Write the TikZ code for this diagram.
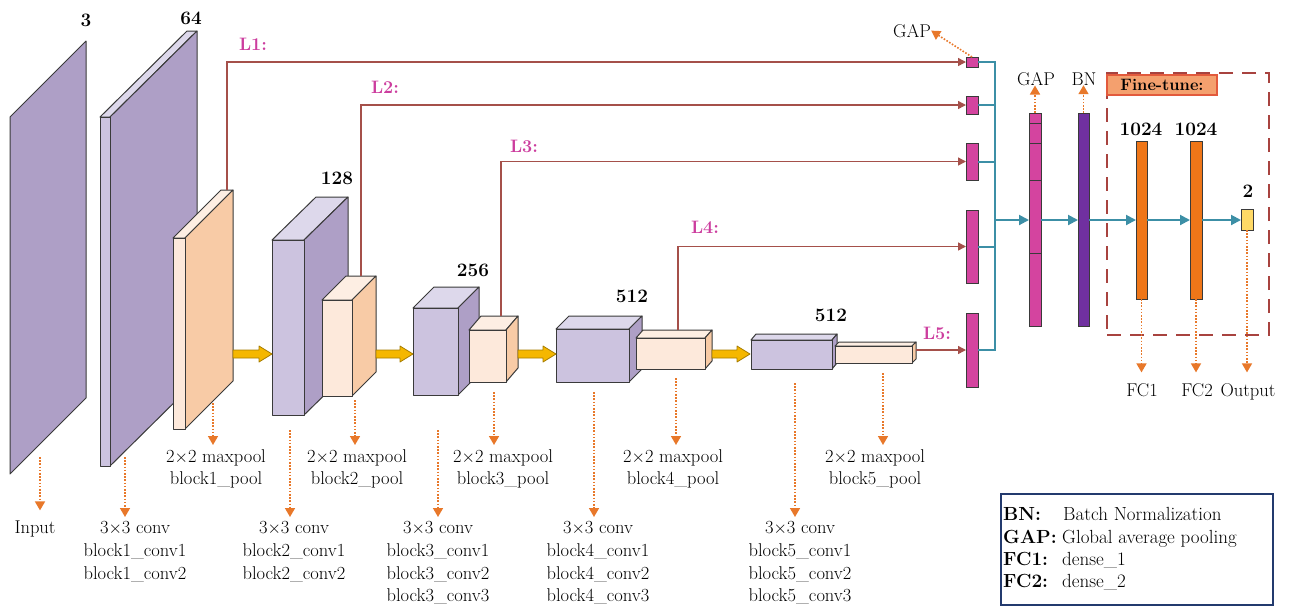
\documentclass[tikz,border=0pt]{standalone}
\usetikzlibrary{arrows.meta}
\definecolor{outl}{HTML}{3A3A3A}
\definecolor{purF}{HTML}{CCC3DF}
\definecolor{purS}{HTML}{AE9FC6}
\definecolor{purT}{HTML}{DDD8EB}
\definecolor{orF}{HTML}{FDE9DB}
\definecolor{orS}{HTML}{F8CBA6}
\definecolor{orT}{HTML}{FDEEE3}
\definecolor{lcol}{HTML}{A5504A}
\definecolor{magc}{HTML}{CC3D9E}
\definecolor{gapc}{HTML}{D4449F}
\definecolor{gapo}{HTML}{5A1A40}
\definecolor{bnc}{HTML}{7030A0}
\definecolor{fcc}{HTML}{EF7618}
\definecolor{outc}{HTML}{FFD966}
\definecolor{tealc}{HTML}{3C8FA6}
\definecolor{dor}{HTML}{E8782A}
\definecolor{dashc}{HTML}{A8433F}
\definecolor{ftfill}{HTML}{F4A06E}
\definecolor{ftdraw}{HTML}{E25A3C}
\definecolor{legc}{HTML}{233A6E}
\definecolor{yfill}{HTML}{F5B700}
\definecolor{ydraw}{HTML}{A67C00}
\definecolor{textc}{HTML}{000000}
\newcommand{\mycube}[9]{%
  \filldraw[box, fill=#9] (#1,#2) -- ++(#5,-#6) -- ++(#3,0) -- ++(-#5,#6) -- cycle;
  \filldraw[box, fill=#8] (#1+#3,#2) -- ++(#5,-#6) -- ++(0,#4) -- ++(-#5,#6) -- cycle;
  \filldraw[box, fill=#7] (#1,#2) rectangle ++(#3,#4);
}
\newcommand{\yarrow}[3]{%
  \filldraw[yarr] (#1,#3-4) -- (#2-13,#3-4) -- (#2-13,#3-8) -- (#2,#3) -- (#2-13,#3+8) -- (#2-13,#3+4) -- (#1,#3+4) -- cycle;
}
\begin{document}
\begin{tikzpicture}[x=1pt,y=-1pt,
  box/.style={draw=outl, line width=1pt, line join=round},
  yarr/.style={fill=yfill, draw=ydraw, line width=0.8pt, line join=round},
  lline/.style={draw=lcol, line width=1.4pt, -{Triangle[length=8pt,width=8pt]}},
  dotarr/.style={draw=dor, line width=1.6pt, dash pattern=on 1.6pt off 1.6pt, -{Triangle[length=9pt,width=10pt]}},
  tline/.style={draw=tealc, line width=2pt},
  tarr/.style={draw=tealc, line width=2pt, -{Triangle[length=10pt,width=10pt]}},
  bar/.style={rectangle, draw=outl, line width=1pt, inner sep=0pt, outer sep=0pt},
  lbl/.style={font=\fontsize{18.5}{22.8}\selectfont, inner sep=0pt, text=textc, align=center},
  num/.style={font=\fontsize{19}{22}\selectfont\bfseries, inner sep=0pt, text=textc, anchor=base},
  llab/.style={font=\fontsize{18}{21}\selectfont\bfseries, inner sep=0pt, text=magc, anchor=base},
  leg/.style={font=\fontsize{19}{23}\selectfont, inner sep=0pt, text=textc, anchor=base west}
]
\useasboundingbox (0,0) rectangle (1296,606);

% ---- slabs and cuboids ----
\filldraw[box, fill=purS] (10,117) -- (86,41) -- (86,398) -- (10,474) -- cycle;
\mycube{100}{117}{10}{349}{87}{86}{purF}{purS}{purT}
\mycube{173}{238}{12}{191}{48}{48}{orF}{orS}{orT}
\mycube{272}{240}{32}{175}{44}{43}{purF}{purS}{purT}
\mycube{322}{300}{30}{96}{24}{24}{orF}{orS}{orT}
\mycube{413}{308}{45}{87}{21}{21}{purF}{purS}{purT}
\mycube{469}{330}{37}{52}{12}{14}{orF}{orS}{orT}
\mycube{556}{329}{73}{53}{13}{13}{purF}{purS}{purT}
\mycube{636}{338}{69}{31}{7}{8}{orF}{orS}{orT}
\mycube{751}{340}{81}{29}{5}{6}{purF}{purS}{purT}
\mycube{835}{346}{77}{17}{4}{4}{orF}{orS}{orT}

% ---- yellow arrows ----
\yarrow{233}{272}{354}
\yarrow{376}{413}{354}
\yarrow{518}{556}{354}
\yarrow{712}{750}{354}

% ---- channel numbers ----
\node[num] (n3) at (86,26) {3};
\node[num] (n64) at (191,24) {64};
\node[num] (n128) at (337,184) {128};
\node[num] (n256) at (473,276) {256};
\node[num] (n512a) at (632,302) {512};
\node[num] (n512b) at (831,321) {512};

% ---- GAP boxes ----
\node[bar, fill=gapc, minimum width=12pt, minimum height=10pt] (g1) at (972,62) {};
\node[bar, fill=gapc, minimum width=12pt, minimum height=18pt] (g2) at (972,105) {};
\node[bar, fill=gapc, minimum width=12pt, minimum height=37pt] (g3) at (972,161.5) {};
\node[bar, fill=gapc, minimum width=12pt, minimum height=73pt] (g4) at (972,246.5) {};
\node[bar, fill=gapc, minimum width=12pt, minimum height=74pt] (g5) at (972,350) {};

% ---- L connectors ----
\coordinate (s1) at (227,190);
\coordinate (s2) at (361,276);
\coordinate (s3) at (501,316);
\coordinate (s4) at (678,330);
\coordinate (s5) at (916,350);
\draw[lline] (s1) |- (g1.west);
\draw[lline] (s2) |- (g2.west);
\draw[lline] (s3) |- (g3.west);
\draw[lline] (s4) |- (g4.west);
\draw[lline] (s5) -- (g5.west);
\node[llab] (l1) at (253,50) {L1:};
\node[llab] (l2) at (385,93) {L2:};
\node[llab] (l3) at (524,152) {L3:};
\node[llab] (l4) at (705,233) {L4:};
\node[llab] (l5) at (937,339) {L5:};

% ---- fine-tune frame ----
\node[rectangle, draw=dashc, line width=2.5pt, dash pattern=on 14pt off 9pt, minimum width=162pt, minimum height=262pt, inner sep=0pt] (ft) at (1188,204) {};
\node[rectangle, fill=ftfill, draw=ftdraw, line width=1.5pt, minimum width=110pt, minimum height=20pt, inner sep=0pt, font=\fontsize{16.5}{19}\selectfont\bfseries, text=textc] (ftl) at (1162,85) {Fine-tune:};

% ---- right column bars ----
\node[bar, fill=gapc, minimum width=12pt, minimum height=213pt] (gap) at (1035,219.5) {};
\foreach \yy in {123,143,180,253} \draw[box] (1029,\yy) -- (1041,\yy);
\node[bar, fill=bnc, minimum width=11pt, minimum height=213pt] (bn) at (1083.5,219.5) {};
\node[bar, fill=fcc, minimum width=11pt, minimum height=158pt] (fc1) at (1141.5,220) {};
\node[bar, fill=fcc, minimum width=12pt, minimum height=158pt] (fc2) at (1196,220) {};
\node[bar, fill=outc, minimum width=12pt, minimum height=21pt] (out) at (1247,219.5) {};

% ---- teal connectors ----
\coordinate (tv1) at (995,62);
\coordinate (tv5) at (995,350);
\coordinate (tvm) at (995,220);
\draw[tline] (g1.east) -- (tv1) -- (tv5) -- (g5.east);
\draw[tline] (g2.east) -- (g2.east -| tv1);
\draw[tline] (g3.east) -- (g3.east -| tv1);
\draw[tline] (g4.east) -- (g4.east -| tv1);
\draw[tarr] (tvm) -- (tvm -| gap.west);
\draw[tarr] (tvm -| gap.east) -- (tvm -| bn.west);
\draw[tarr] (tvm -| bn.east) -- (tvm -| fc1.west);
\draw[tarr] (tvm -| fc1.east) -- (tvm -| fc2.west);
\draw[tarr] (tvm -| fc2.east) -- (tvm -| out.west);

% ---- right labels ----
\node[lbl, anchor=base] (gapt) at (912,37) {GAP};
\node[lbl, anchor=base] (gapl) at (1036,85) {GAP};
\node[lbl, anchor=base] (bnl) at (1084,85) {BN};
\node[num] (n1024a) at (1141,135) {1024};
\node[num] (n1024b) at (1196,135) {1024};
\node[num] (n2) at (1248,197) {2};
\draw[dotarr] (g1.north) -- (gapt.east);
\draw[dotarr] (gap.north) -- (gap.north |- gapl.south);
\draw[dotarr] (bn.north) -- (bn.north |- bnl.south);

\node[lbl, anchor=north] (fc1l) at (1142,383.4) {FC1};
\node[lbl, anchor=north] (fc2l) at (1197,383.4) {FC2};
\node[lbl, anchor=north] (outl) at (1248,383.4) {Output};
\draw[dotarr, shorten >=11pt] (fc1.south) -- (fc1.south |- fc1l.north);
\draw[dotarr, shorten >=11pt] (fc2.south) -- (fc2.south |- fc2l.north);
\draw[dotarr, shorten >=11pt] (out.south) -- (out.south |- outl.north);

% ---- bottom labels ----
\node[lbl, anchor=north] (inp) at (35,520.4) {Input};
\node[lbl, anchor=north] (c1) at (135,521) {3$\times$3 conv\\block1\_conv1\\block1\_conv2};
\node[lbl, anchor=north] (p1) at (216,449) {2$\times$2 maxpool\\block1\_pool};
\node[lbl, anchor=north] (c2) at (294,521) {3$\times$3 conv\\block2\_conv1\\block2\_conv2};
\node[lbl, anchor=north] (p2) at (357,449) {2$\times$2 maxpool\\block2\_pool};
\node[lbl, anchor=north] (c3) at (438,521) {3$\times$3 conv\\block3\_conv1\\block3\_conv2\\block3\_conv3};
\node[lbl, anchor=north] (p3) at (503,449) {2$\times$2 maxpool\\block3\_pool};
\node[lbl, anchor=north] (c4) at (598,521) {3$\times$3 conv\\block4\_conv1\\block4\_conv2\\block4\_conv3};
\node[lbl, anchor=north] (p4) at (673,449) {2$\times$2 maxpool\\block4\_pool};
\node[lbl, anchor=north] (c5) at (800,521) {3$\times$3 conv\\block5\_conv1\\block5\_conv2\\block5\_conv3};
\node[lbl, anchor=north] (p5) at (875,449) {2$\times$2 maxpool\\block5\_pool};

\coordinate (a0) at (40,457);
\coordinate (a1) at (125,457);
\coordinate (ap1) at (213,403);
\coordinate (a2) at (290,430);
\coordinate (ap2) at (355,400);
\coordinate (a3) at (438,430);
\coordinate (ap3) at (494,392);
\coordinate (a4) at (594,392);
\coordinate (ap4) at (676,378);
\coordinate (a5) at (795,383);
\coordinate (ap5) at (883,373);
\draw[dotarr, shorten >=10pt] (a0) -- (a0 |- inp.north);
\draw[dotarr, shorten >=4pt] (a1) -- (a1 |- c1.north);
\draw[dotarr, shorten >=4pt] (ap1) -- (ap1 |- p1.north);
\draw[dotarr, shorten >=4pt] (a2) -- (a2 |- c2.north);
\draw[dotarr, shorten >=4pt] (ap2) -- (ap2 |- p2.north);
\draw[dotarr, shorten >=4pt] (a3) -- (a3 |- c3.north);
\draw[dotarr, shorten >=4pt] (ap3) -- (ap3 |- p3.north);
\draw[dotarr, shorten >=4pt] (a4) -- (a4 |- c4.north);
\draw[dotarr, shorten >=4pt] (ap4) -- (ap4 |- p4.north);
\draw[dotarr, shorten >=4pt] (a5) -- (a5 |- c5.north);
\draw[dotarr, shorten >=4pt] (ap5) -- (ap5 |- p5.north);

% ---- legend ----
\node[rectangle, draw=legc, line width=2pt, minimum width=272pt, minimum height=111pt, inner sep=0pt] (legbox) at (1137,549.5) {};
\node[leg] (lg1) at (1003,520) {\textbf{BN:}};
\node[leg] (lg1b) at (1063,520) {Batch Normalization};
\node[leg] (lg2) at (1003,543) {\textbf{GAP:}};
\node[leg] (lg2b) at (1062,543) {Global average pooling};
\node[leg] (lg3) at (1003,565) {\textbf{FC1:}};
\node[leg] (lg3b) at (1062,565) {dense\_1};
\node[leg] (lg4) at (1003,587) {\textbf{FC2:}};
\node[leg] (lg4b) at (1062,587) {dense\_2};
\end{tikzpicture}
\end{document}
